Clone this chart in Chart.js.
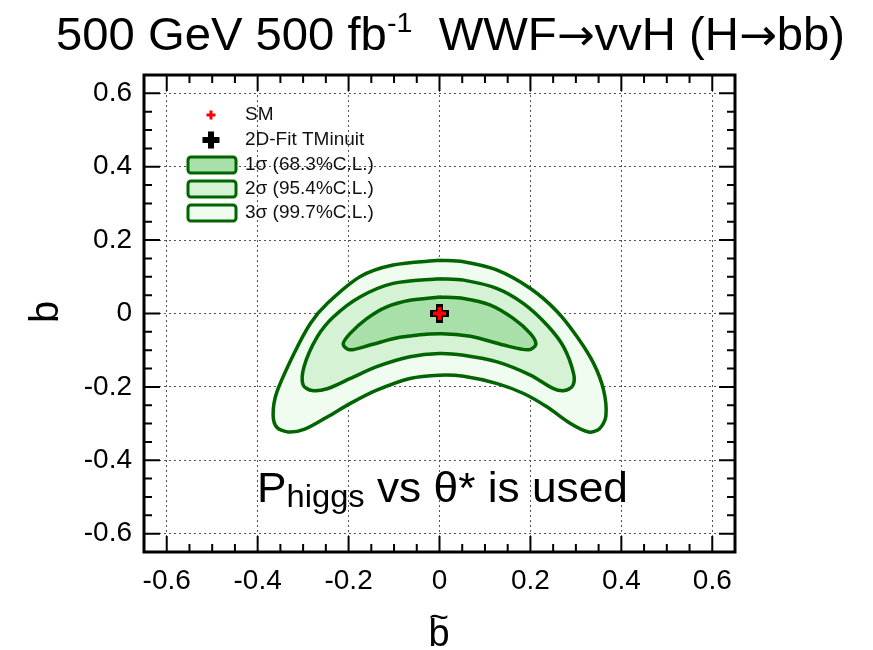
<!DOCTYPE html>
<html lang="en">
<head>
<meta charset="UTF-8">
<title>500 GeV WWF vvH contours</title>
<script src="https://cdn.jsdelivr.net/npm/chart.js"></script>
<style>
    body { margin: 0; background: #fff; }
    #wrap { width: 873px; height: 650px; position: relative; }
</style>
</head>
<body>
<div id="wrap"><canvas id="contourChart"></canvas></div>
<script>
// axis setup
const axisMin = -0.65;
const axisMax = 0.65;
const xTicks = [-0.6, -0.4, -0.2, 0, 0.2, 0.4, 0.6];
const yTicks = [-0.6, -0.4, -0.2, 0, 0.2, 0.4, 0.6];

// best fit point and SM point (b~, b)
const smPoint = [[0, 0]];
const fitPoint = [[0, 0]];

// contours, [b~, b]
const contour1s = [
    [0, 0.045], [0.053, 0.041], [0.112, 0.023], [0.163, -0.014], [0.2, -0.055],
    [0.212, -0.084], [0.196, -0.099], [0.141, -0.086], [0.068, -0.062], [0, -0.055],
    [-0.087, -0.065], [-0.153, -0.086], [-0.197, -0.099], [-0.212, -0.084], [-0.197, -0.055],
    [-0.16, -0.014], [-0.116, 0.018], [-0.065, 0.036], [0, 0.045]
];
const contour2s = [
    [0, 0.095], [0.053, 0.091], [0.127, 0.068], [0.185, 0.027], [0.237, -0.032],
    [0.273, -0.091], [0.295, -0.164], [0.293, -0.197], [0.275, -0.21], [0.251, -0.205],
    [0.2, -0.168], [0.127, -0.132], [0.053, -0.114], [0, -0.109], [-0.065, -0.118],
    [-0.138, -0.145], [-0.196, -0.177], [-0.247, -0.205], [-0.28, -0.21], [-0.3, -0.195],
    [-0.298, -0.145], [-0.269, -0.064], [-0.233, -0.009], [-0.175, 0.045], [-0.102, 0.082],
    [0, 0.095]
];
const contour3s = [
    [0, 0.145], [0.053, 0.141], [0.127, 0.118], [0.2, 0.068], [0.259, 0.005],
    [0.303, -0.064], [0.339, -0.136], [0.361, -0.209], [0.366, -0.28], [0.352, -0.314],
    [0.328, -0.323], [0.288, -0.3], [0.237, -0.255], [0.185, -0.218], [0.127, -0.191],
    [0.053, -0.171], [0, -0.168], [-0.065, -0.177], [-0.138, -0.209], [-0.196, -0.245],
    [-0.247, -0.282], [-0.298, -0.316], [-0.333, -0.323], [-0.358, -0.31], [-0.366, -0.275],
    [-0.358, -0.215], [-0.32, -0.109], [-0.284, -0.027], [-0.247, 0.027], [-0.175, 0.10],
    [-0.102, 0.132], [0, 0.145]
];

const legendLabels = ['SM', '2D-Fit TMinuit', '1\u03c3 (68.3%C.L.)', '2\u03c3 (95.4%C.L.)', '3\u03c3 (99.7%C.L.)'];

const lineGreen = '#006400';
const fill1 = '#a9dfa9';
const fill2 = '#d5f2d5';
const fill3 = '#f1fcf1';
const FONT = "'Liberation Sans', Arial, sans-serif";
const ARROWFONT = "'DejaVu Sans', sans-serif";

const toXY = arr => arr.map(p => ({ x: p[0], y: p[1] }));

function plus(ctx, x, y, half, w, color) {
    ctx.fillStyle = color;
    ctx.fillRect(x - half, y - w / 2, half * 2, w);
    ctx.fillRect(x - w / 2, y - half, w, half * 2);
}

// draw a run of [text, font, dy] pieces, squeezed/stretched to a width
function textRun(ctx, parts, x, y, width) {
    let total = 0;
    parts.forEach(p => { ctx.font = p[1]; total += ctx.measureText(p[0]).width; });
    ctx.save();
    ctx.translate(x, y);
    ctx.scale(width / total, 1);
    let cx = 0;
    parts.forEach(p => { ctx.font = p[1]; ctx.fillText(p[0], cx, p[2]); cx += ctx.measureText(p[0]).width; });
    ctx.restore();
}

// frame, inward ticks, legend and texts
const decorations = {
    id: 'decorations',
    afterDraw(chart) {
        const ctx = chart.ctx;
        const ca = chart.chartArea;
        const xs = chart.scales.x;
        const ys = chart.scales.y;
        ctx.save();

        // ticks on all four sides
        ctx.strokeStyle = '#000';
        ctx.lineWidth = 2;
        for (let i = -12; i <= 12; i++) {
            const v = i * 0.05;
            const major = i % 4 === 0;
            const len = major ? 16 : 8;
            const px = xs.getPixelForValue(v);
            const py = ys.getPixelForValue(v);
            ctx.beginPath();
            ctx.moveTo(px, ca.bottom); ctx.lineTo(px, ca.bottom - len);
            ctx.moveTo(px, ca.top); ctx.lineTo(px, ca.top + len);
            ctx.moveTo(ca.left, py); ctx.lineTo(ca.left + len, py);
            ctx.moveTo(ca.right, py); ctx.lineTo(ca.right - len, py);
            ctx.stroke();
        }
        ctx.lineWidth = 3;
        ctx.strokeRect(ca.left, ca.top, ca.right - ca.left, ca.bottom - ca.top);

        // legend
        plus(ctx, 211, 115, 4.5, 3, '#ff0000');
        plus(ctx, 211, 140, 8.5, 6, '#000');
        const boxFills = [fill1, fill2, fill3];
        const boxTops = [157, 181, 205];
        ctx.lineWidth = 3;
        ctx.strokeStyle = lineGreen;
        boxTops.forEach((t, i) => {
            ctx.fillStyle = boxFills[i];
            ctx.beginPath();
            ctx.roundRect(188, t, 48, 16, 3);
            ctx.fill();
            ctx.stroke();
        });
        ctx.fillStyle = '#111';
        ctx.font = '19px ' + FONT;
        ctx.textAlign = 'left';
        ctx.textBaseline = 'middle';
        const rowY = [115, 140, 165, 189, 213];
        legendLabels.forEach((t, i) => ctx.fillText(t, 245, rowY[i]));

        // title
        ctx.fillStyle = '#000';
        ctx.textBaseline = 'alphabetic';
        const big = '46px ' + FONT, small = '28px ' + FONT, arrow = '44px ' + ARROWFONT;
        textRun(ctx, [
            ['500 GeV 500 fb', big, 0], ['-1', small, -18], ['  WWF', big, 0],
            ['\u2192', arrow, 0], ['vvH (H', big, 0], ['\u2192', arrow, 0], ['bb)', big, 0]
        ], 56, 50, 789);

        // annotation
        textRun(ctx, [
            ['P', '42px ' + FONT, 0], ['higgs', '31px ' + FONT, 5], [' vs \u03b8* is used', '42px ' + FONT, 0]
        ], 257, 502, 371);

        // axis titles
        ctx.font = '38px ' + FONT;
        ctx.textAlign = 'center';
        ctx.fillText('b', 439, 646);
        ctx.font = '34px ' + FONT;
        ctx.fillText('~', 439, 628);
        ctx.save();
        ctx.translate(58, 312);
        ctx.rotate(-Math.PI / 2);
        ctx.font = '40px ' + FONT;
        ctx.fillText('b', 0, 0);
        ctx.restore();

        ctx.restore();
    }
};

function axis(ticks) {
    return {
        type: 'linear',
        min: axisMin,
        max: axisMax,
        z: 1,
        afterBuildTicks: s => { s.ticks = ticks.map(v => ({ value: v })); },
        ticks: {
            color: '#000',
            font: { family: FONT, size: 28 },
            padding: 12,
            callback: v => (v === 0 ? '0' : v.toFixed(1))
        },
        grid: { color: '#555', lineWidth: 1, drawTicks: false },
        border: { display: false, dash: [2, 3] }
    };
}

const xAxis = axis(xTicks);
xAxis.afterFit = s => { s.height = 98; };
const yAxis = axis(yTicks);
yAxis.afterFit = s => { s.width = 144; };

const contourStyle = (pts, fill) => ({
    data: toXY(pts),
    showLine: true,
    fill: 'shape',
    backgroundColor: fill,
    borderColor: lineGreen,
    borderWidth: 3.5,
    pointRadius: 0,
    tension: 0.3
});

new Chart(document.getElementById('contourChart'), {
    type: 'scatter',
    data: {
        datasets: [
            { data: toXY(smPoint), pointStyle: 'cross', radius: 6.5, borderWidth: 4, borderColor: '#ff0000' },
            { data: toXY(fitPoint), pointStyle: 'cross', radius: 9.5, borderWidth: 7, borderColor: '#000' },
            contourStyle(contour1s, fill1),
            contourStyle(contour2s, fill2),
            contourStyle(contour3s, fill3)
        ]
    },
    options: {
        responsive: true,
        maintainAspectRatio: false,
        animation: false,
        layout: { padding: { top: 75, right: 138, left: 0, bottom: 0 } },
        plugins: { legend: { display: false }, tooltip: { enabled: false } },
        scales: { x: xAxis, y: yAxis }
    },
    plugins: [decorations]
});
</script>
</body>
</html>
